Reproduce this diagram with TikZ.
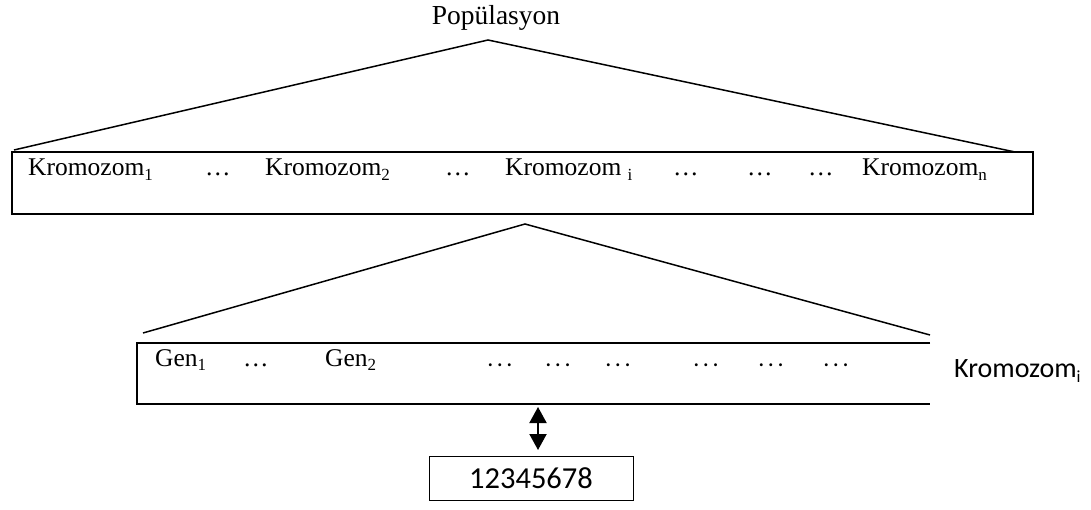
\documentclass[tikz,border=0pt]{standalone}
\usepackage{fontspec}
\setmainfont{Liberation Serif}
\newfontfamily\calfont{Carlito}
\usetikzlibrary{arrows.meta}
\newcommand\ksub[1]{\raisebox{-0.18em}{\fontsize{17}{17}\selectfont #1}}
\newcommand\cdotsgap{.\kern3.5pt.\kern3.5pt.}
\begin{document}
\begin{tikzpicture}[x=1pt,y=-1pt,
  every node/.style={inner sep=0pt},
  serif/.style={font=\fontsize{25.5}{28}\selectfont, anchor=base west},
  sans/.style={font=\calfont\fontsize{28}{32}\selectfont, anchor=base west},
  sansdots/.style={font=\calfont\fontsize{24}{28}\selectfont, anchor=base},
  boxline/.style={line width=2pt},
  fanline/.style={line width=1.5pt}]
\useasboundingbox (0,0) rectangle (1091,510);
% title
\node[font=\fontsize{27.5}{30}\selectfont, anchor=base] (pop) at (496,25) {Popülasyon};
% first fan
\coordinate (a1) at (488,40);
\coordinate (l1) at (14,150);
\coordinate (r1) at (1015,152);
\draw[fanline] (l1) -- (a1) -- (r1);
% population box
\node[draw, boxline, minimum width=1021pt, minimum height=62pt, anchor=north west, outer sep=0pt] (box1) at (12,152) {};
\node[serif] (k1) at (28,176) {Kromozom\ksub{1}};
\node[serif] (d1) at (205,176) {…};
\node[serif] (k2) at (265,176) {Kromozom\ksub{2}};
\node[serif] (d2) at (445,176) {…};
\node[serif] (ki) at (505,176) {Kromozom \ksub{i}};
\node[serif] (d3) at (673,176) {…};
\node[serif] (d4) at (747,176) {…};
\node[serif] (d5) at (808,176) {…};
\node[serif] (kn) at (862,176) {Kromozom\ksub{n}};
% second fan
\coordinate (a2) at (525,224);
\coordinate (l2) at (143,333);
\coordinate (r2) at (930,335);
\draw[fanline] (l2) -- (a2) -- (r2);
% chromosome box (open on the right)
\coordinate (b2tr) at (930,343);
\coordinate (b2tl) at (137,343);
\coordinate (b2bl) at (137,404);
\coordinate (b2br) at (930,404);
\draw[boxline] (b2tr) -- (b2tl) -- (b2bl) -- (b2br);
\node[serif] (g1) at (155,366) {Gen\ksub{1}};
\node[serif] (gd1) at (243,366) {…};
\node[serif] (g2) at (325,366) {Gen\ksub{2}};
\node[sansdots] (gd2) at (500,366) {\cdotsgap};
\node[sansdots] (gd3) at (558,366) {\cdotsgap};
\node[sansdots] (gd4) at (618,366) {\cdotsgap};
\node[sansdots] (gd5) at (706,366) {\cdotsgap};
\node[sansdots] (gd6) at (771,366) {\cdotsgap};
\node[sansdots] (gd7) at (836,366) {\cdotsgap};
\node[sans] (kil) at (954,377) {Kromozom\ksub{i}};
% gene value
\node[draw, line width=0.8pt, minimum width=204pt, minimum height=44pt, font=\calfont\fontsize{30.5}{34}\selectfont] (val) at (531,478) {12345678};
\coordinate (arT) at (538,407);
\coordinate (arB) at (538,450);
\draw[line width=2pt, {Triangle[length=16pt,width=17pt]}-{Triangle[length=16pt,width=17pt]}] (arT) -- (arB);
\end{tikzpicture}
\end{document}
